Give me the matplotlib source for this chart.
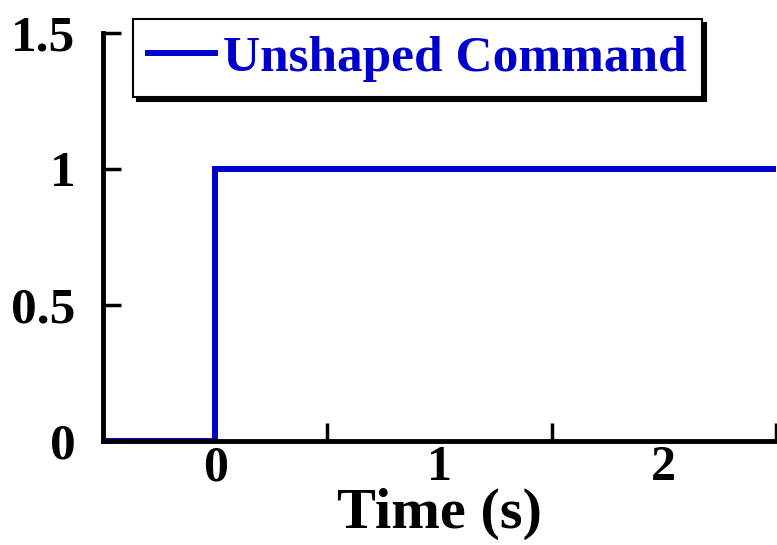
import matplotlib
matplotlib.use('Agg')
import matplotlib.pyplot as plt

# 字体：Times 风格粗体
plt.rcParams['font.family'] = ['Liberation Serif', 'DejaVu Serif']
plt.rcParams['font.weight'] = 'bold'

# 阶跃指令数据
time_s = [-0.5, 0.0, 0.0, 2.5]
command = [0.0, 0.0, 1.0, 1.0]

x_labels = ['0', '1', '2']
x_label_pos = [0, 1, 2]
x_tick_pos = [0.5, 1.5, 2.5]
y_ticks = [0, 0.5, 1, 1.5]
y_labels = ['0', '0.5', '1', '1.5']

BLUE = '#0000CC'

fig = plt.figure(figsize=(7.77, 5.45), dpi=100)
ax = fig.add_axes([0.1326, 0.191, 0.866, 0.7484])

ax.plot(time_s, command, color=BLUE, linewidth=4.3, label='Unshaped Command',
        solid_joinstyle='miter', zorder=2)

ax.set_xlim(-0.5, 2.5)
ax.set_ylim(0, 1.5)

# 只保留左、下坐标轴
ax.spines['top'].set_visible(False)
ax.spines['right'].set_visible(False)
ax.spines['left'].set_linewidth(3.5)
ax.spines['bottom'].set_linewidth(3.5)

# x 轴：刻度线在 0.5/1.5/2.5，数字标签在整数处
ax.set_xticks(x_tick_pos)
ax.set_xticklabels([])
ax.set_xticks(x_label_pos, minor=True)
ax.set_xticklabels(x_labels, minor=True)
ax.tick_params(axis='x', which='major', direction='in', length=13, width=2.5)
ax.tick_params(axis='x', which='minor', length=0, pad=3, labelsize=36)

ax.set_yticks(y_ticks)
ax.set_yticklabels(y_labels)
ax.tick_params(axis='y', direction='in', length=13, width=2.5, pad=20, labelsize=37)

ax.set_xlabel('Time (s)', fontsize=42, fontweight='bold', labelpad=-2)

leg = ax.legend(loc='upper left', bbox_to_anchor=(0.044, 1.034), fontsize=37,
                labelcolor='linecolor', frameon=True, fancybox=False,
                shadow={'ox': 3, 'oy': -3, 'color': 'black', 'alpha': 1.0},
                handlelength=1.3, handletextpad=0.15, borderpad=0.3,
                borderaxespad=0)
leg.get_frame().set_edgecolor('black')
leg.get_frame().set_linewidth(1.5)
leg.get_frame().set_alpha(1.0)
for line in leg.get_lines():
    line.set_linewidth(4.3)

fig.savefig('out.png', dpi=100)
